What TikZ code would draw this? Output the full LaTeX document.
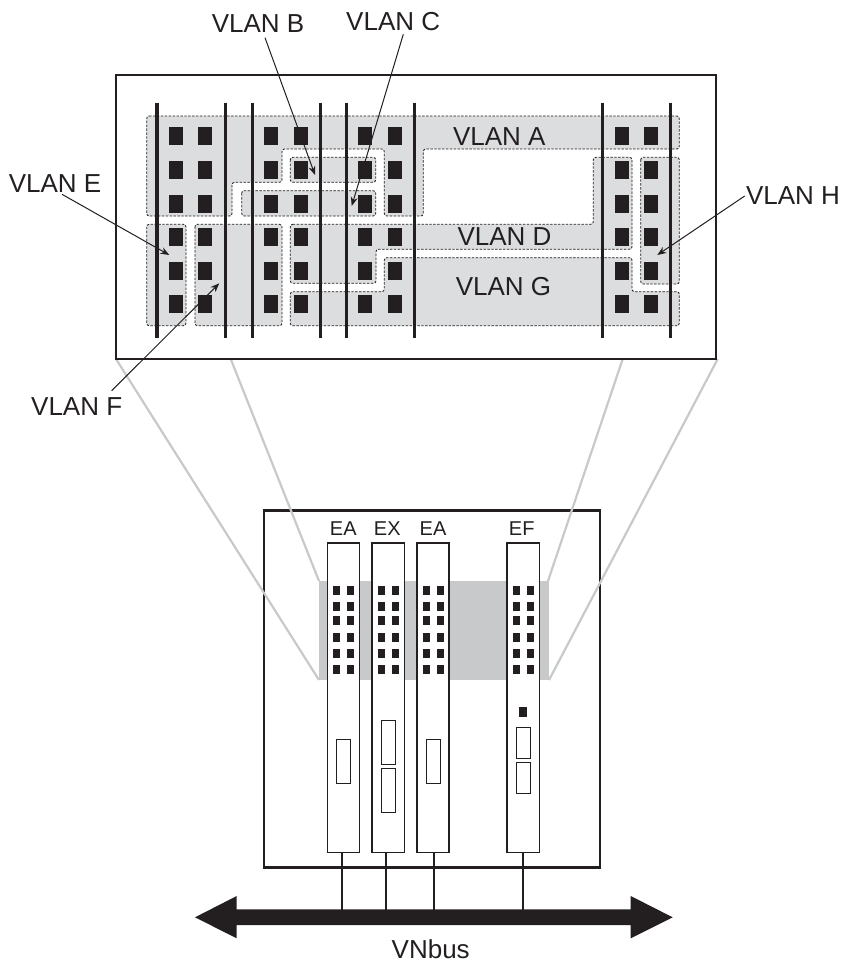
\documentclass[tikz,border=0pt]{standalone}
\usepackage{fontspec}
\setmainfont{Liberation Sans}
\usetikzlibrary{arrows.meta}
\definecolor{ink}{HTML}{231F20}
\definecolor{region}{HTML}{DCDDDE}
\definecolor{zoomgray}{HTML}{C8C9CB}
\tikzset{
  regionshape/.style={fill=region,draw=ink,line width=0.85pt,dash pattern=on 2.4pt off 1.5pt,rounded corners=2.5pt},
  vbar/.style={draw=ink,line width=3.3pt},
  frame/.style={draw=ink,line width=2.6pt},
  zoomline/.style={draw=zoomgray,line width=2.2pt},
  bigport/.style={fill=ink,minimum width=14pt,minimum height=18pt,inner sep=0pt,outer sep=0pt},
  smallport/.style={fill=ink,minimum width=7pt,minimum height=9pt,inner sep=0pt,outer sep=0pt},
  card/.style={draw=ink,line width=1.5pt,fill=white,minimum width=32.3pt,minimum height=309.3pt,inner sep=0pt,outer sep=0pt},
  slot/.style={draw=ink,line width=1.1pt,fill=white,minimum width=14.2pt,inner sep=0pt,outer sep=0pt},
  vlanlabel/.style={text=ink,anchor=base,inner sep=0pt,font=\fontsize{26}{30}\selectfont},
  cardlabel/.style={text=ink,anchor=base,inner sep=0pt,font=\fontsize{20}{24}\selectfont},
  callout/.style={draw=ink,line width=1pt,-{Stealth[length=9pt,width=7pt]}},
  stub/.style={draw=ink,line width=2pt},
}
\begin{document}
\begin{tikzpicture}[x=1pt,y=-1pt]
\useasboundingbox (0,0) rectangle (841,966);
% zoom lines
\coordinate (zTL) at (116,359); \coordinate (zTI) at (230.7,359);
\coordinate (zTJ) at (622.7,359); \coordinate (zTR) at (717.7,359);
\coordinate (zBL) at (319,680); \coordinate (zBI) at (319,581);
\coordinate (zBJ) at (548,581); \coordinate (zBR) at (549,680);
% lower chassis
\node[frame,draw,minimum width=336pt,minimum height=357pt,inner sep=0pt,outer sep=0pt] (chassis) at (432,688.7) {};
\fill[zoomgray] (319,581) rectangle (549,680);
\draw[zoomline] (zTL) -- (zBL);
\draw[zoomline] (zTI) -- (zBI);
\draw[zoomline] (zTJ) -- (zBJ);
\draw[zoomline] (zTR) -- (zBR);
% upper frame
\node[frame,draw,fill=white,minimum width=600pt,minimum height=283.7pt,inner sep=0pt,outer sep=0pt] (upper) at (416,217) {};
% regions
\path[regionshape] (146.7,116) -- (679.3,116) -- (679.3,149) -- (423.3,149) -- (423.3,216) -- (384.3,216) -- (384.3,149) -- (282,149) -- (282,182.3) -- (232,182.3) -- (232,216) -- (146.7,216) -- cycle;
\path[regionshape] (290.3,157.3) rectangle (375.7,182.3);
\path[regionshape] (241.7,190.7) rectangle (375.7,216);
\path[regionshape] (146.7,224.3) rectangle (186,325.7);
\path[regionshape] (195,224.3) rectangle (282,325.7);
\path[regionshape] (290.3,224.3) -- (593.3,224.3) -- (593.3,157.3) -- (632,157.3) -- (632,249.3) -- (376,249.3) -- (376,283.3) -- (290.3,283.3) -- cycle;
\path[regionshape] (290.3,291.7) -- (384.3,291.7) -- (384.3,257.7) -- (632,257.7) -- (632,291.7) -- (679.3,291.7) -- (679.3,325.7) -- (290.3,325.7) -- cycle;
\path[regionshape] (640.7,157.3) rectangle (679.3,284);
% bars
\foreach \bx in {157,225.7,252.3,320.3,346.3,414.2,602.3,670.7}
  \draw[vbar] (\bx,102.7) -- (\bx,338.3);
% ports
\foreach \cx in {176,205,271,301,365,395,622,651}
  \foreach \cy in {136,170,204,237,271,304}
    \node[bigport] at (\cx,\cy) {};
% labels upper
\node[vlanlabel] (vA) at (499.3,145) {VLAN A};
\node[vlanlabel] (vD) at (504.5,245.7) {VLAN D};
\node[vlanlabel] (vG) at (503.5,295.7) {VLAN G};
\node[vlanlabel] (vB) at (258,32.3) {VLAN B};
\node[vlanlabel] (vC) at (393.2,31) {VLAN C};
\node[vlanlabel] (vE) at (55,192.3) {VLAN E};
\node[vlanlabel] (vH) at (793,204.3) {VLAN H};
\node[vlanlabel] (vF) at (76.7,415.7) {VLAN F};
% callouts
\coordinate (sB) at (265,37.7); \coordinate (tB) at (315,175);
\coordinate (sC) at (403.3,34.3); \coordinate (tC) at (351.7,206);
\coordinate (sE) at (62,194.3); \coordinate (tE) at (169.3,255);
\coordinate (sF) at (111.7,390.7); \coordinate (tF) at (219.3,283.3);
\coordinate (sH) at (744.7,196); \coordinate (tH) at (657.3,255);
\draw[callout] (sB) -- (tB);
\draw[callout] (sC) -- (tC);
\draw[callout] (sE) -- (tE);
\draw[callout] (sF) -- (tF);
\draw[callout] (sH) -- (tH);
% bus
\coordinate (busA) at (341.7,910); \coordinate (busB) at (386,910);
\coordinate (busC) at (434,910); \coordinate (busD) at (522.7,910);
% cards
\node[card] (cardA) at (343.5,697.6) {};
\node[card] (cardB) at (388.2,697.6) {};
\node[card] (cardC) at (433,697.6) {};
\node[card] (cardD) at (523.2,697.6) {};
\foreach \cx in {336.7,350.7,381.7,395.7,426.7,440.7,516.7,530.7}
  \foreach \cy in {590.3,606.7,620.7,637.3,653.3,669.3}
    \node[smallport] at (\cx,\cy) {};
\node[slot,minimum height=44.4pt] (slotA) at (343.5,761.5) {};
\node[slot,minimum height=44pt] (slotB1) at (388.5,742.7) {};
\node[slot,minimum height=44.4pt] (slotB2) at (388.5,790.5) {};
\node[slot,minimum height=44.4pt] (slotC) at (433.3,761.5) {};
\node[slot,minimum height=31pt] (slotD1) at (523.3,743.2) {};
\node[slot,minimum height=30.7pt] (slotD2) at (523.3,777.7) {};
\node[fill=ink,minimum width=8pt,minimum height=10pt,inner sep=0pt,outer sep=0pt] (ledD) at (523,712) {};
\node[cardlabel] (lA) at (343.3,535.7) {EA};
\node[cardlabel] (lB) at (387.3,535.7) {EX};
\node[cardlabel] (lC) at (433,535.7) {EA};
\node[cardlabel] (lD) at (521.7,535.7) {EF};
\draw[stub] (cardA.south -| busA) -- (busA);
\draw[stub] (cardB.south -| busB) -- (busB);
\draw[stub] (cardC.south -| busC) -- (busC);
\draw[stub] (cardD.south -| busD) -- (busD);
\fill[ink] (195,917.3) -- (236.7,896) -- (236.7,909.3) -- (630.7,909.3) -- (630.7,896) -- (672.7,917.3) -- (630.7,938.3) -- (630.7,925) -- (236.7,925) -- (236.7,938.3) -- cycle;
\node[vlanlabel] (lBus) at (430.7,958) {VNbus};
\end{tikzpicture}
\end{document}
